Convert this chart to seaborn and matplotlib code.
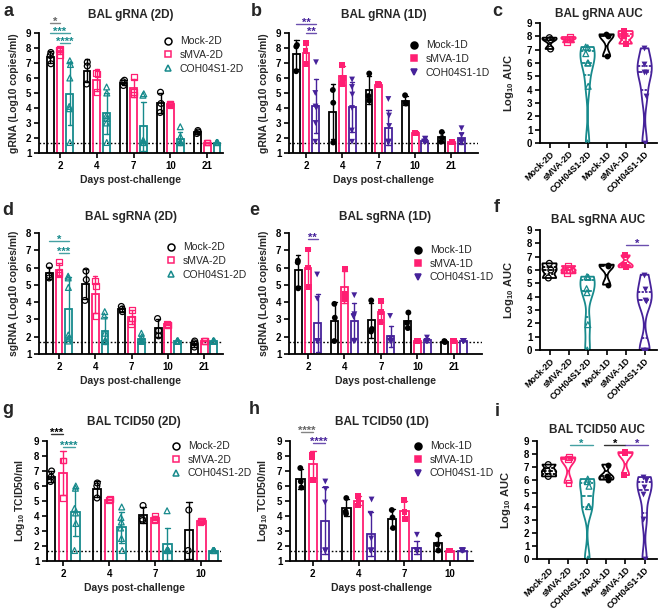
import numpy as np
import pandas as pd
import matplotlib
matplotlib.use("Agg")
import matplotlib.pyplot as plt
from matplotlib.lines import Line2D
import seaborn as sns

# -------------------------
# DATA
# -------------------------
DAYS = ["2", "4", "7", "10", "21"]
DAYS_TCID = ["2", "4", "7", "10"]
GROUPS_2D = ["Mock-2D", "sMVA-2D", "COH04S1-2D"]
GROUPS_1D = ["Mock-1D", "sMVA-1D", "COH04S1-1D"]
AUC_GROUPS = GROUPS_2D + GROUPS_1D
LOD = 1.7

# a: BAL gRNA (2D), one list per day
grna2_mock = [[7.7, 7.5, 6.95], [7.05, 6.8, 5.6], [5.85, 5.75, 5.5], [5.05, 4.3, 3.7], [2.5, 2.4, 2.3]]
grna2_smva = [[7.95, 7.9, 7.55], [6.35, 6.25, 5.05], [6.05, 5.05, 4.9], [4.3, 4.25, 4.2], [1.7, 1.7, 1.7]]
grna2_coh = [[7.15, 6.9, 6.0, 4.1, 3.95, 1.7], [5.4, 5.0, 3.5, 3.3, 3.0, 1.7],
             [4.95, 4.85, 1.85, 1.7, 1.7, 1.7], [2.75, 2.1, 1.7, 1.7, 1.7, 1.7],
             [1.7, 1.7, 1.7, 1.7, 1.7, 1.7]]
# b: BAL gRNA (1D)
grna1_mock = [[8.2, 8.1, 6.45], [5.2, 4.35, 1.7], [6.3, 4.8, 4.5], [4.85, 4.35, 4.3], [2.4, 2.0, 1.75]]
grna1_smva = [[8.35, 7.8, 6.95], [6.85, 6.0, 5.6], [5.6, 5.55, 5.5], [2.35, 2.3, 2.3], [1.75, 1.75, 1.75]]
grna1_coh = [[7.05, 5.0, 4.1, 4.0, 3.0, 1.75], [5.9, 5.4, 4.9, 4.0, 2.5, 1.75],
             [4.6, 3.5, 2.8, 1.75, 1.75, 1.75], [1.95, 1.95, 1.75, 1.75, 1.75, 1.75],
             [2.65, 2.2, 1.75, 1.75, 1.75, 1.75]]
# d: BAL sgRNA (2D)
sg2_mock = [[6.1, 5.55, 5.4], [5.8, 5.3, 4.1], [3.75, 3.6, 3.45], [3.05, 2.35, 2.05], [1.75, 1.65, 1.4]]
sg2_smva = [[6.3, 5.75, 5.6], [5.2, 4.95, 3.2], [3.55, 3.05, 2.75], [2.75, 2.7, 2.7], [1.75, 1.75, 1.75]]
sg2_coh = [[5.5, 5.4, 4.85, 2.1, 1.9, 1.75], [3.45, 3.2, 2.2, 1.75, 1.75, 1.75],
           [2.2, 2.0, 1.75, 1.75, 1.75, 1.75], [1.75, 1.75, 1.75, 1.75, 1.75, 1.75],
           [1.75, 1.75, 1.75, 1.75, 1.75, 1.75]]
# e: BAL sgRNA (1D)
sg1_mock = [[6.4, 6.3, 4.8], [3.9, 3.1, 1.75], [4.1, 2.45, 2.3], [3.4, 2.8, 2.5], [1.75, 1.7, 1.7]]
sg1_smva = [[7.05, 6.0, 4.9], [5.9, 4.5, 4.2], [4.05, 3.45, 2.85], [1.75, 1.75, 1.75], [1.75, 1.75, 1.75]]
sg1_coh = [[5.6, 4.2, 1.75, 1.75, 1.75, 1.75], [4.4, 3.3, 3.2, 3.15, 1.75, 1.75],
           [3.2, 1.9, 1.75, 1.75, 1.75, 1.75], [1.95, 1.75, 1.75, 1.75, 1.75, 1.75],
           [1.75, 1.75, 1.75, 1.75, 1.75, 1.75]]
# g: BAL TCID50 (2D)
tc2_mock = [[7.0, 6.6, 6.3], [6.2, 6.0, 5.2], [4.7, 3.8, 3.7], [4.4, 1.7]]
tc2_smva = [[7.7, 7.7, 5.2], [5.15, 5.1, 5.05], [4.0, 3.8, 3.75], [3.7, 3.65, 3.6]]
tc2_coh = [[6.0, 5.85, 4.5, 4.2, 3.5, 1.7], [4.6, 3.9, 3.6, 3.2, 2.5, 1.7],
           [4.35, 1.7, 1.7, 1.7, 1.7, 1.7], [1.7, 1.7, 1.7, 1.7, 1.7, 1.7]]
# h: BAL TCID50 (1D)
tc1_mock = [[7.2, 6.3, 5.9], [5.2, 4.3, 4.15], [4.4, 3.9, 3.2], [2.75, 2.1, 1.7]]
tc1_smva = [[8.05, 7.9, 6.4], [5.35, 5.05, 4.7], [5.05, 4.25, 3.8], [1.7, 1.7, 1.7]]
tc1_coh = [[6.3, 5.8, 4.9, 1.7, 1.7, 1.7], [5.1, 4.15, 2.5, 1.7, 1.7, 1.7],
           [2.75, 1.7, 1.7, 1.7, 1.7, 1.7], [1.7, 1.7, 1.7, 1.7, 1.7, 1.7]]
# c, f, i: AUC per group (order = AUC_GROUPS)
auc_grna = [[7.9, 7.75, 7.05], [7.95, 7.8, 7.55], [7.2, 7.15, 6.7, 6.0, 6.0, 4.25, 0.0],
            [8.15, 8.05, 6.5], [8.4, 8.0, 7.45], [7.1, 5.95, 5.35, 5.3, 3.5, 0.0]]
auc_sgrna = [[6.5, 6.0, 5.4], [6.3, 6.0, 5.75], [5.5, 5.45, 4.6, 4.3, 1.9, 0.0],
             [6.4, 6.3, 4.9], [7.1, 6.4, 6.2], [5.65, 4.55, 3.75, 3.7, 0.0, 0.0]]
auc_tcid = [[7.2, 6.7, 6.3], [7.75, 7.6, 5.8], [6.1, 5.9, 5.55, 4.0, 4.0, 0.0],
            [7.2, 6.3, 6.05], [8.15, 8.05, 6.4], [6.25, 6.0, 5.5, 4.95, 3.05, 0.0]]

# -------------------------
# STYLE
# -------------------------
BLACK, PINK, TEAL, PURPLE = "#000000", "#FF1F72", "#178A8C", "#46229A"
COLS_2D = [BLACK, PINK, TEAL]
COLS_1D = [BLACK, PINK, PURPLE]
MARKS_2D = ["o", "s", "^"]
MARKS_1D = ["o", "s", "v"]

sns.set_theme(style="ticks")
plt.rcParams.update({
    "font.family": ["Liberation Sans", "DejaVu Sans"],
    "font.weight": "bold",
    "axes.labelweight": "bold",
    "axes.titleweight": "bold",
    "mathtext.default": "regular",
    "axes.linewidth": 1.3,
    "axes.edgecolor": "black",
    "xtick.color": "black", "ytick.color": "black",
    "xtick.major.width": 1.2, "ytick.major.width": 1.2,
    "xtick.major.size": 3.5, "ytick.major.size": 3.5,
    "xtick.major.pad": 2, "ytick.major.pad": 2,
    "xtick.labelsize": 7, "ytick.labelsize": 7,
    "axes.labelsize": 7.5, "axes.titlesize": 8.5,
})
np.random.seed(4)

W, H = 658, 613
fig = plt.figure(figsize=(W / 100, H / 100), dpi=100)


def add_ax(x0, x1, ytop, ybot):
    return fig.add_axes([x0 / W, 1 - ybot / H, (x1 - x0) / W, (ybot - ytop) / H])


def hollow(ax, k, col):
    for c in ax.collections[k:]:
        c.set_facecolor("none")
        c.set_edgecolor(col)
        c.set_linewidth(0.9)


def sig(ax, x1, x2, y, txt, col):
    ax.plot([x1, x2], [y, y], color=col, lw=1, alpha=0.8, clip_on=False)
    ax.annotate(txt, xy=((x1 + x2) / 2, y), xytext=(0, -1.5), textcoords="offset points",
                ha="center", va="baseline", color=col, fontsize=8, annotation_clip=False)


def bar_panel(ax, days, names, series, cols, marks, filled, ytop, xlim):
    rows = [(d, n, v) for n, s in zip(names, series) for d, vals in zip(days, s) for v in vals]
    df = pd.DataFrame(rows, columns=["day", "grp", "val"])
    pal = dict(zip(names, cols))
    sns.barplot(data=df, x="day", y="val", hue="grp", order=days, hue_order=names,
                palette=pal, fill=False, width=0.8, gap=0.3, errorbar="sd",
                capsize=0.35, linewidth=1.3, err_kws={"linewidth": 1.0},
                legend=False, ax=ax)
    for n, m in zip(names, marks):
        k = len(ax.collections)
        sns.stripplot(data=df[df.grp == n], x="day", y="val", hue="grp", order=days,
                      hue_order=names, palette=pal, dodge=True, jitter=0.06,
                      marker=m, size=4.2, legend=False, ax=ax)
        if not filled:
            hollow(ax, k, pal[n])
    ax.axhline(LOD, color="black", ls=(0, (1.2, 1.5)), lw=1, zorder=0)
    ax.set_ylim(1, ytop)
    ax.set_yticks(range(1, ytop + 1))
    ax.set_xlim(*xlim)
    ax.set_xlabel("Days post-challenge", labelpad=3)
    sns.despine(ax=ax)


def bar_x(ax, ndays, hue_i, day_i):
    p = ax.patches[hue_i * ndays + day_i]
    return p.get_x() + p.get_width() / 2


def legend(ax, names, cols, marks, filled, x, y):
    hs = [Line2D([], [], ls="none", marker=m, markersize=5, markeredgewidth=1.1,
                 markeredgecolor=c, markerfacecolor=c if filled else "none")
          for c, m in zip(cols, marks)]
    ax.legend(hs, names, loc="upper left", bbox_to_anchor=(x / W, 1 - y / H),
              bbox_transform=fig.transFigure, frameon=False, borderpad=0,
              handlelength=1, handletextpad=0.6, labelspacing=0.35,
              prop={"size": 7.5, "weight": "normal"})


def violin_panel(ax, groups, xlim):
    rows = [(n, v) for n, vals in zip(AUC_GROUPS, groups) for v in vals]
    df = pd.DataFrame(rows, columns=["grp", "val"])
    cols = COLS_2D + COLS_1D
    pal = dict(zip(AUC_GROUPS, cols))
    sns.violinplot(data=df, x="grp", y="val", hue="grp", order=AUC_GROUPS,
                   hue_order=AUC_GROUPS, palette=pal, fill=False, inner="quart",
                   cut=0, density_norm="width", bw_adjust=0.5, width=0.75,
                   linewidth=1.3, legend=False, ax=ax)
    for i, (n, m) in enumerate(zip(AUC_GROUPS, MARKS_2D + MARKS_1D)):
        k = len(ax.collections)
        sns.stripplot(data=df[df.grp == n], x="grp", y="val", order=AUC_GROUPS,
                      color=pal[n], marker=m, size=4.2, jitter=0.1, ax=ax)
        if i < 3:
            hollow(ax, k, pal[n])
    ax.set_ylim(0, 9)
    ax.set_yticks(range(0, 10))
    ax.set_xlim(*xlim)
    ax.set_xlabel("")
    ax.set_ylabel("Log$_{10}$ AUC", labelpad=8, fontsize=8)
    ax.tick_params(axis="x", labelsize=6.4, pad=1)
    for t in ax.get_xticklabels():
        t.set_rotation(45)
        t.set_ha("right")
        t.set_rotation_mode("anchor")
    sns.despine(ax=ax)


# ---- a ----
ax = add_ax(39, 223, 33, 153)
bar_panel(ax, DAYS, GROUPS_2D, [grna2_mock, grna2_smva, grna2_coh], COLS_2D, MARKS_2D, False, 9, (-0.57, 4.43))
ax.set_ylabel("gRNA (Log10 copies/ml)", labelpad=5)
ax.set_title("BAL gRNA (2D)", pad=10.5)
legend(ax, GROUPS_2D, COLS_2D, MARKS_2D, False, 158, 31)
sig(ax, bar_x(ax, 5, 0, 0), bar_x(ax, 5, 1, 0), 9.65, "*", "#666666")
sig(ax, bar_x(ax, 5, 0, 0), bar_x(ax, 5, 2, 0), 9.0, "***", TEAL)
sig(ax, bar_x(ax, 5, 1, 0), bar_x(ax, 5, 2, 0), 8.35, "****", TEAL)

# ---- b ----
ax = add_ax(289, 478, 33, 153)
bar_panel(ax, DAYS, GROUPS_1D, [grna1_mock, grna1_smva, grna1_coh], COLS_1D, MARKS_1D, True, 9, (-0.47, 4.73))
ax.set_ylabel("gRNA (Log10 copies/ml)", labelpad=5)
ax.set_title("BAL gRNA (1D)", pad=10.5)
legend(ax, GROUPS_1D, COLS_1D, MARKS_1D, True, 404, 35)
sig(ax, bar_x(ax, 5, 0, 0), bar_x(ax, 5, 2, 0), 9.6, "**", PURPLE)
sig(ax, bar_x(ax, 5, 1, 0), bar_x(ax, 5, 2, 0), 9.0, "**", PURPLE)

# ---- c ----
ax = add_ax(540, 657, 23, 143)
violin_panel(ax, auc_grna, (-0.5, 5.65))
ax.set_title("BAL gRNA AUC", pad=4)

# ---- d ----
ax = add_ax(39, 223, 233, 354)
bar_panel(ax, DAYS, GROUPS_2D, [sg2_mock, sg2_smva, sg2_coh], COLS_2D, MARKS_2D, False, 8, (-0.55, 4.52))
ax.set_ylabel("sgRNA (Log10 copies/ml)", labelpad=5)
ax.set_title("BAL sgRNA (2D)", pad=9.5)
legend(ax, GROUPS_2D, COLS_2D, MARKS_2D, False, 161, 237)
sig(ax, bar_x(ax, 5, 0, 0), bar_x(ax, 5, 2, 0), 7.55, "*", TEAL)
sig(ax, bar_x(ax, 5, 1, 0), bar_x(ax, 5, 2, 0), 6.85, "***", TEAL)

# ---- e ----
ax = add_ax(289, 482, 233, 354)
bar_panel(ax, DAYS, GROUPS_1D, [sg1_mock, sg1_smva, sg1_coh], COLS_1D, MARKS_1D, True, 8, (-0.52, 4.77))
ax.set_ylabel("sgRNA (Log10 copies/ml)", labelpad=5)
ax.set_title("BAL sgRNA (1D)", pad=9.5)
legend(ax, GROUPS_1D, COLS_1D, MARKS_1D, True, 408, 240)
sig(ax, bar_x(ax, 5, 1, 0), bar_x(ax, 5, 2, 0), 7.65, "**", PURPLE)

# ---- f ----
ax = add_ax(540, 657, 230, 350)
violin_panel(ax, auc_sgrna, (-0.5, 5.65))
ax.set_title("BAL sgRNA AUC", pad=5)
sig(ax, 4, 5.2, 7.9, "*", PURPLE)

# ---- g ----
ax = add_ax(47, 221, 441, 561)
bar_panel(ax, DAYS_TCID, GROUPS_2D, [tc2_mock, tc2_smva, tc2_coh], COLS_2D, MARKS_2D, False, 9, (-0.35, 3.43))
ax.set_ylabel("Log$_{10}$ TCID50/ml", labelpad=5)
ax.set_title("BAL TCID50 (2D)", pad=11.5)
legend(ax, GROUPS_2D, COLS_2D, MARKS_2D, False, 166, 436)
sig(ax, bar_x(ax, 4, 0, 0), bar_x(ax, 4, 1, 0), 9.45, "***", BLACK)
sig(ax, bar_x(ax, 4, 1, 0), bar_x(ax, 4, 2, 0), 8.6, "****", TEAL)

# ---- h ----
ax = add_ax(290, 473, 441, 561)
bar_panel(ax, DAYS_TCID, GROUPS_1D, [tc1_mock, tc1_smva, tc1_coh], COLS_1D, MARKS_1D, True, 9, (-0.5, 3.5))
ax.set_ylabel("Log$_{10}$ TCID50/ml", labelpad=5)
ax.set_title("BAL TCID50 (1D)", pad=11.5)
legend(ax, GROUPS_1D, COLS_1D, MARKS_1D, True, 408, 436)
sig(ax, bar_x(ax, 4, 0, 0), bar_x(ax, 4, 1, 0), 9.6, "****", "#666666")
sig(ax, bar_x(ax, 4, 1, 0), bar_x(ax, 4, 2, 0), 8.85, "****", PURPLE)

# ---- i ----
ax = add_ax(537, 657, 441, 559)
violin_panel(ax, auc_tcid, (-0.63, 5.65))
ax.set_title("BAL TCID50 AUC", pad=6)
sig(ax, 1.1, 2.3, 8.7, "*", TEAL)
sig(ax, 2.9, 4.0, 8.7, "*", BLACK)
sig(ax, 4.0, 5.2, 8.7, "*", PURPLE)

# panel letters
for s, x, y in [("a", 8, 12), ("b", 256, 12), ("c", 497, 12),
                ("d", 8, 210), ("e", 254, 210), ("f", 497, 208),
                ("g", 8, 410), ("h", 254, 410), ("i", 497, 412)]:
    fig.text(x / W, 1 - y / H, s, fontsize=13, fontweight="bold", ha="center", va="center")

fig.savefig("out.png", dpi=100)
